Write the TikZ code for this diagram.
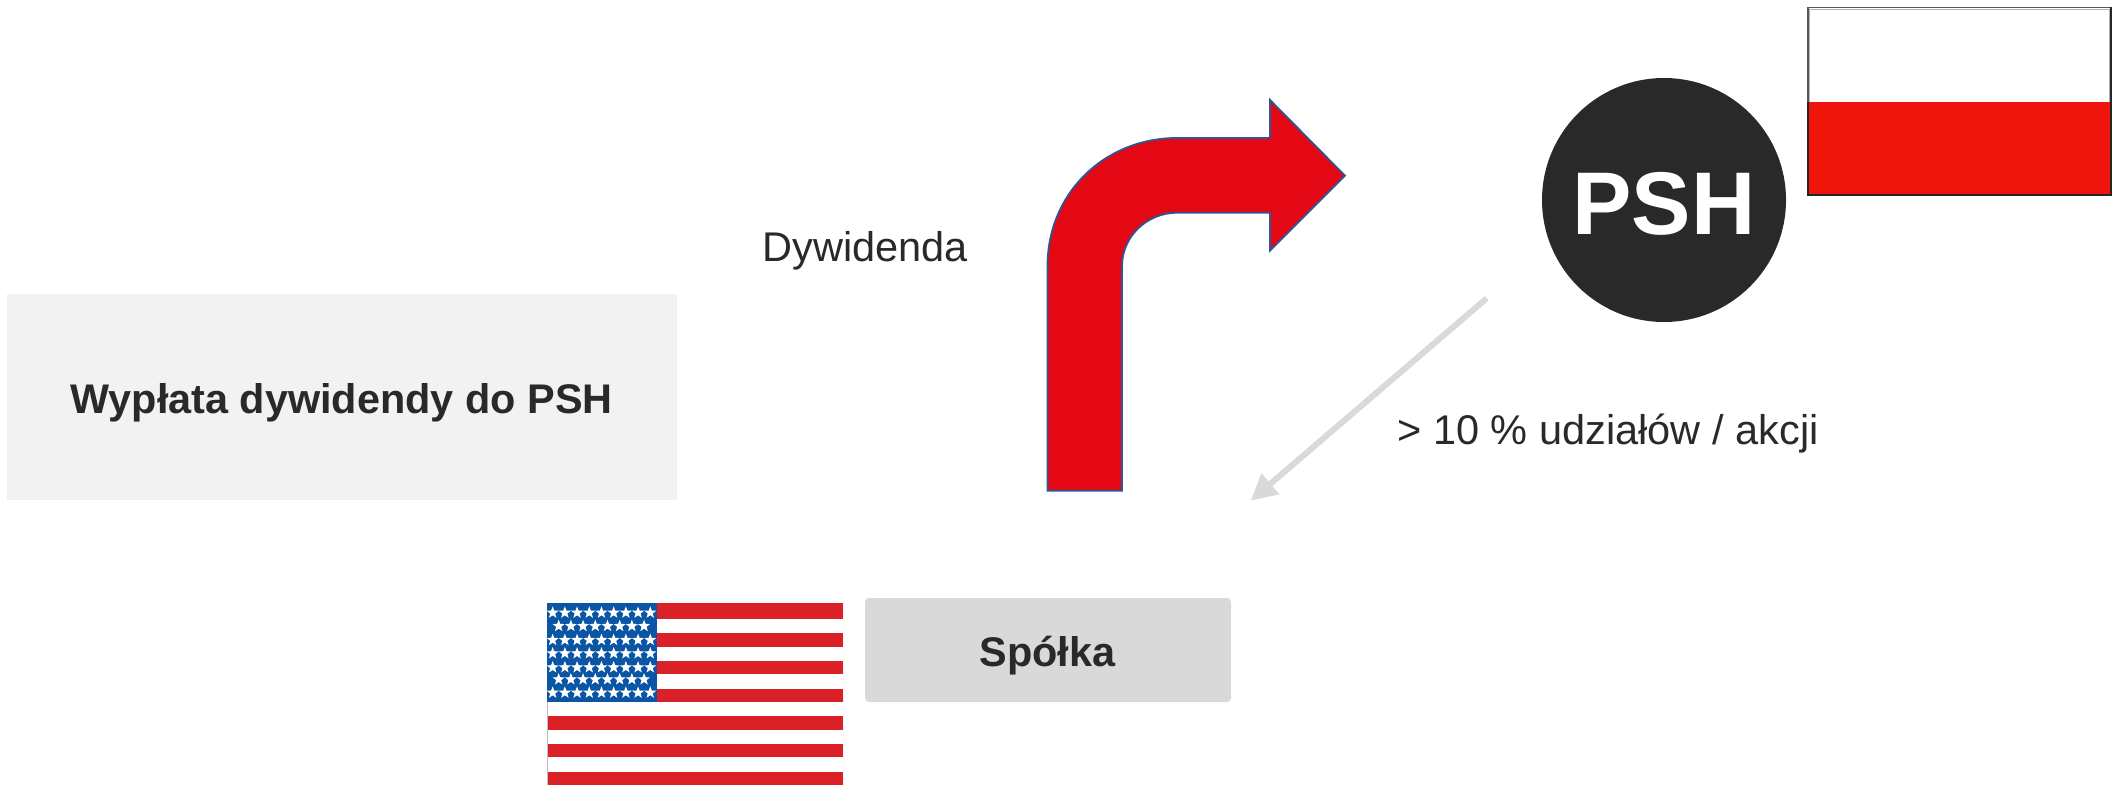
\documentclass[tikz,border=0pt]{standalone}
\usepackage{fontspec}
\setmainfont{Liberation Sans}
\usetikzlibrary{shapes.geometric,arrows.meta}
\definecolor{ink}{HTML}{292929}
\definecolor{usred}{HTML}{DA2128}
\definecolor{usblue}{HTML}{0A56A4}
\definecolor{plred}{HTML}{F0150A}
\definecolor{arrred}{HTML}{E30813}
\definecolor{arrblue}{HTML}{2F5597}
\tikzset{
  px/.style={x=1pt,y=-1pt},
  plainbox/.style={inner sep=0,outer sep=0,anchor=north west},
  flagstar/.style={star,star points=5,star point ratio=2.4,fill=white,inner sep=0,minimum size=12.6pt},
  label/.style={text=ink,inner sep=0,font=\fontsize{41.5}{41.5}\selectfont},
  boldlabel/.style={text=ink,inner sep=0,font=\fontsize{41.4}{41.4}\selectfont\bfseries}
}
\begin{document}
\begin{tikzpicture}[px]
\useasboundingbox (0,0) rectangle (2116,785);
\fill[white] (0,0) rectangle (2116,785);
% left box
\node[plainbox,fill=black!5,minimum width=670pt,minimum height=206pt] (wyplata) at (7,294) {};
\node[boldlabel] (wyplatat) at (341.5,403) {Wypłata dywidendy do PSH};
% Spolka
\node[plainbox,fill=black!15,rounded corners=4pt,minimum width=366pt,minimum height=104pt] (spolka) at (865,598) {};
\node[boldlabel] (spolkat) at (1047.5,656) {Spółka};
% labels
\node[label] (dyw) at (865,251) {Dywidenda};
\node[label] (udz) at (1608,434) {> 10 \% udziałów / akcji};
% bent arrow
\draw[fill=arrred,draw=arrblue,line width=1.8pt,line join=miter]
  (1047.5,490.7) -- (1047.5,266) .. controls (1047.5,193) and (1104.8,138) .. (1177,138)
  -- (1270,138) -- (1270,100) -- (1345,175.7) -- (1270,250.7) -- (1270,212.7) -- (1177,212.7)
  .. controls (1147,212.7) and (1122,236.5) .. (1122,266) -- (1122,490.7) -- cycle;
% PSH
\node[circle,fill=ink,minimum size=244pt,inner sep=0] (psh) at (1664,200) {};
\node[text=white,inner sep=0,font=\fontsize{89}{89}\selectfont\bfseries] (psht) at (1664,204) {PSH};
% gray arrow
\coordinate (gs) at (1486.7,298.3);
\coordinate (ge) at (1250.7,500.7);
\draw[black!15,line width=6pt,-{Triangle[length=26pt,width=26pt]}] (gs) -- (ge);
% Poland flag
\fill[white] (1808,7.3) rectangle (2111,101.7);
\fill[plred] (1808,101.7) rectangle (2111,195);
\draw[black!30,line width=1pt] (1809.5,101.7) -- (1809.5,9) -- (2109.5,9) -- (2109.5,101.7);
\draw[black!65,line width=1.5pt] (1808,101.7) -- (1808,7.3) -- (2111,7.3);
\draw[black!85,line width=2pt] (2111,7.3) -- (2111,195) -- (1808,195) -- (1808,101.7);
% US flag
\begin{scope}
\clip (547,603.3) rectangle (843,785);
\fill[white] (547,603.3) rectangle (843,785);
\fill[usred] (547,603.3) rectangle (843,619);
\foreach \i in {0,...,5} {
  \fill[usred] (547,{633.3+\i*27.67}) rectangle (843,{633.3+\i*27.67+13.5});
}
\draw[black!25,line width=0.7pt] (547,603.3) -- (547,785) (843,603.3) -- (843,785);
\fill[usblue] (547,603.3) rectangle (656.7,702.3);
\foreach \y in {68,150,190,232,308} \foreach \k in {0,...,8}
  \node[flagstar] at ({530+(68+\k*36.6)/3},{590+\y/3}) {};
\foreach \y in {108,268} \foreach \k in {0,...,7}
  \node[flagstar] at ({530+(86+\k*36.6)/3},{590+\y/3}) {};
\end{scope}
\end{tikzpicture}
\end{document}
